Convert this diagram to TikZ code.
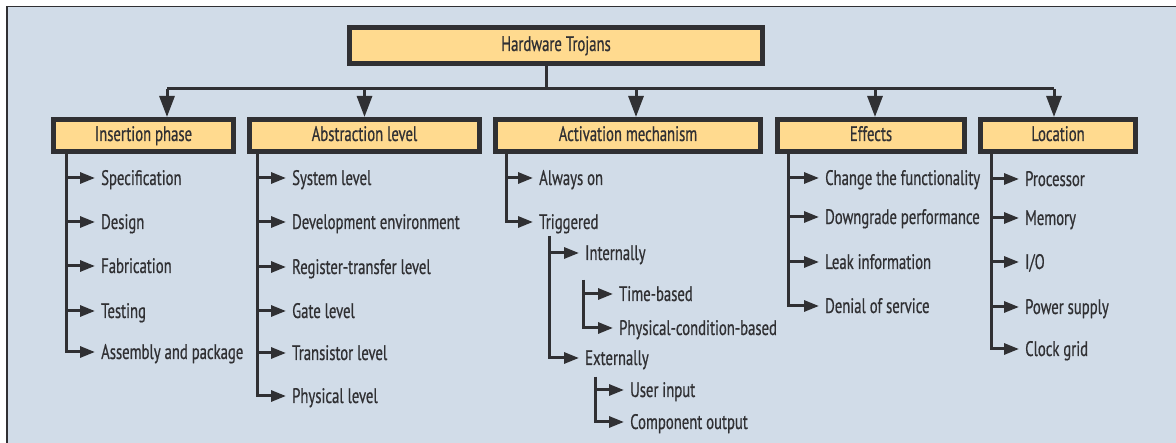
\documentclass[tikz,border=0pt]{standalone}
\usepackage{fontspec}
\setmainfont[FakeStretch=0.7,FakeBold=0.6]{PT Sans}
\usetikzlibrary{arrows.meta}
\definecolor{bg}{HTML}{D1DCE8}
\definecolor{boxfill}{HTML}{FFDA8F}
\definecolor{ink}{HTML}{303033}
\tikzset{
  catbox/.style={draw=ink, fill=boxfill, line width=5pt, inner sep=0pt,
    minimum height=32pt, text height=15pt, text depth=4pt},
  itembox/.style={anchor=west, inner xsep=6pt, inner ysep=0pt, text height=17pt, text depth=3pt},
  wire/.style={draw=ink, line width=3pt},
  rarrow/.style={wire, -{Triangle[length=15pt,width=11pt]}},
  darrow/.style={wire, -{Triangle[length=21pt,width=15pt]}}
}
\begin{document}
\begin{tikzpicture}[x=1pt,y=-1pt,font=\fontsize{21}{24}\selectfont,text=ink]
\useasboundingbox (0,0) rectangle (1176,443);
\fill[white] (0,0) rectangle (1176,443);
\filldraw[fill=bg, draw=ink, line width=1.2pt] (7,6.5) rectangle (1190,460);

% root
\node[catbox, minimum width=413pt, minimum height=36pt] (root) at (556,45.5) {Hardware Trojans};
% categories
\node[catbox, minimum width=180pt] (ins) at (143.5,135.5) {Insertion phase};
\node[catbox, minimum width=230pt] (abs) at (364.5,135.5) {Abstraction level};
\node[catbox, minimum width=265pt] (act) at (628,135.5) {Activation mechanism};
\node[catbox, minimum width=187pt] (eff) at (871,135.5) {Effects};
\node[catbox, minimum width=155pt] (loc) at (1058,135.5) {Location};

% bus
\coordinate (stem) at (546,89);
\coordinate (b1) at (167,89);
\coordinate (b2) at (364.5,89);
\coordinate (b3) at (636,89);
\coordinate (b4) at (875,89);
\coordinate (b5) at (1054,89);
\draw[wire] (root.south -| stem) -- (stem);
\draw[wire] (b1) -- (b5);
\draw[darrow] (b1) -- (b1 |- ins.north);
\draw[darrow] (b2) -- (b2 |- abs.north);
\draw[darrow] (b3) -- (b3 |- act.north);
\draw[darrow] (b4) -- (b4 |- eff.north);
\draw[darrow] (b5) -- (b5 |- loc.north);

% Insertion phase
\coordinate (tI) at (66,150);
\node[itembox] (i1) at (95,178) {Specification};
\node[itembox] (i2) at (95,222) {Design};
\node[itembox] (i3) at (95,266) {Fabrication};
\node[itembox] (i4) at (95,311) {Testing};
\node[itembox] (i5) at (95,352) {Assembly and package};
\foreach \n in {i1,i2,i3,i4,i5} \draw[rarrow] (tI) |- (\n.west);

% Abstraction level
\coordinate (tA) at (257,150);
\node[itembox] (a1) at (286,178) {System level};
\node[itembox] (a2) at (286,222) {Development environment};
\node[itembox] (a3) at (286,267) {Register-transfer level};
\node[itembox] (a4) at (286,311) {Gate level};
\node[itembox] (a5) at (286,353) {Transistor level};
\node[itembox] (a6) at (286,396) {Physical level};
\foreach \n in {a1,a2,a3,a4,a5,a6} \draw[rarrow] (tA) |- (\n.west);

% Activation mechanism
\coordinate (tM) at (506,150);
\node[itembox] (m1) at (533,178) {Always on};
\node[itembox] (m2) at (533,222) {Triggered};
\foreach \n in {m1,m2} \draw[rarrow] (tM) |- (\n.west);
\coordinate (tT) at (549,236);
\node[itembox] (m3) at (579,253) {Internally};
\node[itembox] (m4) at (579,358) {Externally};
\foreach \n in {m3,m4} \draw[rarrow] (tT) |- (\n.west);
\coordinate (tN) at (583,280);
\node[itembox] (m5) at (613,294) {Time-based};
\node[itembox] (m6) at (613,328) {Physical-condition-based};
\foreach \n in {m5,m6} \draw[rarrow] (tN) |- (\n.west);
\coordinate (tE) at (595,377);
\node[itembox] (m7) at (624,390) {User input};
\node[itembox] (m8) at (624,422) {Component output};
\foreach \n in {m7,m8} \draw[rarrow] (tE) |- (\n.west);

% Effects
\coordinate (tF) at (788,150);
\node[itembox] (e1) at (819,178) {Change the functionality};
\node[itembox] (e2) at (819,217) {Downgrade performance};
\node[itembox] (e3) at (819,262) {Leak information};
\node[itembox] (e4) at (819,306) {Denial of service};
\foreach \n in {e1,e2,e3,e4} \draw[rarrow] (tF) |- (\n.west);

% Location
\coordinate (tL) at (991,150);
\node[itembox] (l1) at (1019,179) {Processor};
\node[itembox] (l2) at (1019,218) {Memory};
\node[itembox] (l3) at (1019,262) {I/O};
\node[itembox] (l4) at (1019,307) {Power supply};
\node[itembox] (l5) at (1019,349) {Clock grid};
\foreach \n in {l1,l2,l3,l4,l5} \draw[rarrow] (tL) |- (\n.west);
\end{tikzpicture}
\end{document}
